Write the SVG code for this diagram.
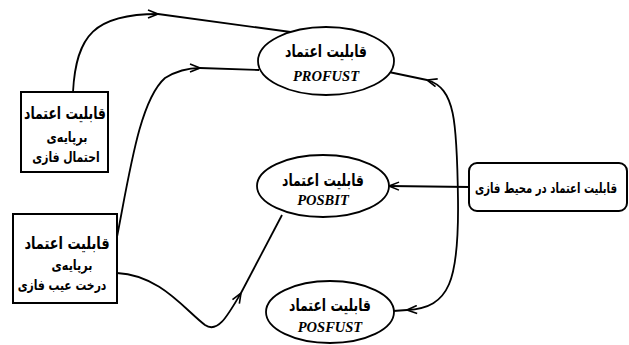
<svg xmlns="http://www.w3.org/2000/svg" width="629" height="345" viewBox="0 0 629 345">
<style>
.box{fill:#fff;stroke:#000;stroke-width:2}
.ell{fill:#fff;stroke:#000;stroke-width:1.8}
.fa{font-family:"DejaVu Sans",sans-serif;font-weight:bold;fill:#000;text-anchor:middle;direction:rtl}
.big{font-size:16.5px}
.sm{font-size:14px}
.lat{font-family:"Liberation Serif",serif;font-weight:bold;font-style:italic;font-size:14.5px;text-anchor:middle;fill:#000}
.c{fill:none;stroke:#000;stroke-width:1.8}
</style>
<defs>
<marker id="ah" viewBox="0 0 12 10" refX="11" refY="5" markerWidth="12" markerHeight="10" markerUnits="userSpaceOnUse" orient="auto">
<path d="M1,1 L11,5 L1,9" fill="none" stroke="#000" stroke-width="1.6"/>
</marker>
</defs>
<g id="connectors">
<path class="c" d="M73,92 C76,35 95,14 158,14" marker-end="url(#ah)"/>
<path class="c" d="M158,14 L298,33"/>
<path class="c" d="M117,237 C130,170 140,100 165,78 C178,70 190,68 200,68" marker-end="url(#ah)"/>
<path class="c" d="M200,68 L259,70"/>
<path class="c" d="M117,273 C160,275 185,310 205,325 C218,334 228,315 241,293" marker-end="url(#ah)"/>
<path class="c" d="M241,293 L282,215"/>
<path class="c" d="M469,187 L389,186" marker-end="url(#ah)"/>
<path class="c" d="M458,200 C457,120 455,88 427,80" marker-end="url(#ah)"/>
<path class="c" d="M427,80 L384,71"/>
<path class="c" d="M458,200 C459,280 450,308 407,310" marker-end="url(#ah)"/>
<path class="c" d="M407,310 L393,311"/>
</g>
<g id="box-ehtemal">
<rect class="box" x="21" y="92" width="87" height="80"/>
<text class="fa big" transform="translate(65,119) scale(0.75,1)">قابلیت اعتماد</text>
<text class="fa sm" transform="translate(67,142) scale(0.8,1)">برپایه‌ی</text>
<text class="fa sm" transform="translate(66,162) scale(0.77,1)">احتمال فازی</text>
</g>
<g id="box-derakht">
<rect class="box" x="13" y="214" width="104" height="89"/>
<text class="fa big" transform="translate(67,249) scale(0.78,1)">قابلیت اعتماد</text>
<text class="fa sm" transform="translate(72,270) scale(0.8,1)">برپایه‌ی</text>
<text class="fa sm" transform="translate(62,290) scale(0.77,1)">درخت عیب فازی</text>
</g>
<g id="profust">
<ellipse class="ell" cx="326" cy="61" rx="68" ry="34"/>
<text class="fa big" transform="translate(326,57) scale(0.75,1)">قابلیت اعتماد</text>
<text class="lat" x="326" y="81">PROFUST</text>
</g>
<g id="posbit">
<ellipse class="ell" cx="323" cy="186" rx="66" ry="31"/>
<text class="fa big" transform="translate(323,186) scale(0.75,1)">قابلیت اعتماد</text>
<text class="lat" x="323" y="205">POSBIT</text>
</g>
<g id="posfust">
<ellipse class="ell" cx="330" cy="312" rx="64" ry="31"/>
<text class="fa big" transform="translate(330,311) scale(0.75,1)">قابلیت اعتماد</text>
<text class="lat" x="330" y="332">POSFUST</text>
</g>
<g id="box-mohit">
<rect class="box" x="469" y="163" width="158" height="48" rx="8"/>
<text class="fa sm" transform="translate(546,193) scale(0.72,1)">قابلیت اعتماد در محیط فازی</text>
</g>
</svg>
